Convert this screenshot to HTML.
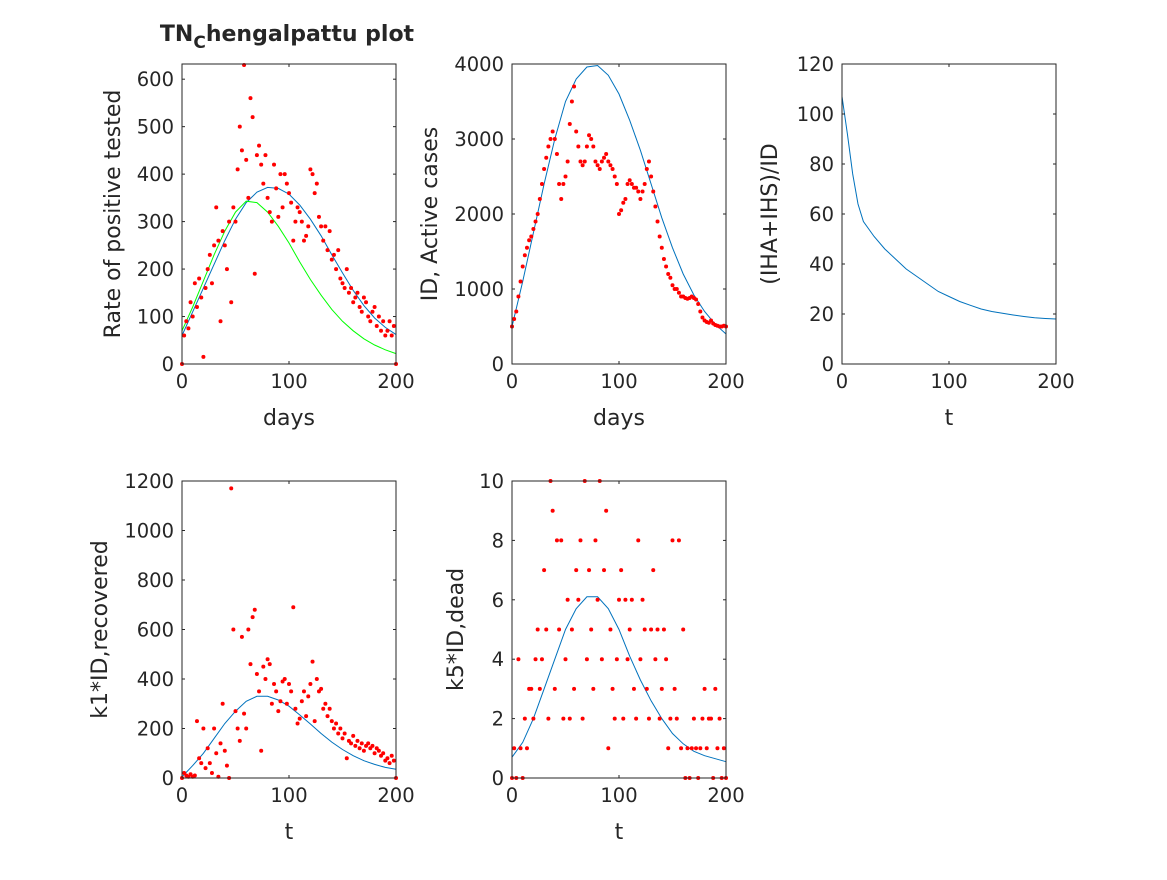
<!DOCTYPE html>
<html><head><meta charset="utf-8"><style>
body{margin:0;background:#fff}
svg text{font-family:"DejaVu Sans","Liberation Sans",sans-serif;fill:#262626}
</style></head><body>
<svg id="fig" width="1167" height="875" viewBox="0 0 1167 875" xmlns="http://www.w3.org/2000/svg">
<rect width="1167" height="875" fill="#fff"/>
</svg>
<script>
// ---- data ----
const days2 = [];
for (let d = 0; d <= 200; d += 2) days2.push(d);
const days10 = [0,10,20,30,40,50,60,70,80,90,100,110,120,130,140,150,160,170,180,190,200];
const ratePoints = [0,60,90,75,130,100,170,120,180,140,15,160,200,230,170,250,330,260,90,280,250,200,300,130,330,300,410,500,450,630,430,350,560,520,190,440,460,420,380,440,350,320,300,420,370,310,400,330,400,380,360,340,260,300,330,320,300,260,270,290,410,400,360,380,310,290,260,290,240,280,220,230,200,240,180,170,160,200,150,160,130,140,150,120,110,140,130,100,90,110,120,80,100,70,90,60,70,90,60,80,0];
const rateFitBlue = [60,110,160,210,260,305,340,362,372,370,358,335,305,270,230,192,155,123,97,77,62];
const rateFitGreen = [70,120,175,230,280,320,343,340,320,290,255,215,178,145,115,90,70,53,40,30,22];
const activePoints = [500,600,700,900,1100,1300,1450,1550,1650,1700,1800,1900,2000,2200,2400,2600,2750,2900,3000,3100,3000,2800,2400,2200,2400,2500,2700,3200,3500,3700,3100,2900,2700,2650,2700,2900,3050,3000,2900,2700,2650,2600,2700,2750,2800,2700,2650,2600,2500,2400,2000,2050,2150,2200,2400,2450,2400,2350,2350,2300,2200,2300,2400,2600,2700,2500,2300,2100,1900,1700,1550,1400,1300,1200,1150,1050,1000,1000,950,900,900,880,870,880,900,880,860,800,700,620,580,560,550,580,540,520,510,500,500,510,500];
const activeFit = [500,1100,1750,2400,3000,3500,3800,3960,3980,3850,3600,3250,2850,2400,1950,1550,1200,920,700,530,400];
const ratioT = [0,5,10,15,20,30,40,50,60,70,80,90,100,110,120,130,140,150,160,170,180,190,200];
const ratioVals = [107,92,76,64,57,51,46,42,38,35,32,29,27,25,23.5,22,21,20.3,19.6,19,18.5,18.2,18];
const recPoints = [0,20,10,5,15,5,10,230,80,60,200,40,120,60,20,200,100,5,140,300,110,50,0,1170,600,270,200,150,570,260,200,600,460,650,680,420,350,110,450,400,480,460,300,380,350,270,310,390,400,300,380,350,690,280,220,240,310,350,250,330,380,470,230,400,350,360,280,300,250,280,230,200,220,180,200,160,180,80,150,140,170,130,150,120,140,110,130,140,120,130,100,120,110,90,100,70,80,60,90,70,0];
const recFit = [5,50,100,160,220,270,310,330,330,315,290,255,218,180,145,115,90,70,55,43,35];
const deadPoints = [0,1,0,4,1,0,2,1,3,3,2,4,5,3,4,7,5,2,10,9,3,8,5,8,2,4,6,2,5,3,7,6,8,2,10,4,7,5,3,8,6,10,4,7,9,1,5,3,2,4,6,7,2,6,4,5,6,3,2,8,4,6,5,3,2,5,7,4,5,2,3,5,4,1,2,8,3,2,8,1,5,0,1,0,1,2,1,0,1,2,3,1,2,2,0,3,1,2,0,1,0];
const deadFit = [0.7,1.2,2,3,4,5,5.7,6.1,6.1,5.7,5,4.1,3.3,2.6,2,1.5,1.15,0.9,0.75,0.65,0.55];
const xTicks = [0,100,200];
const yTicks1 = [0,100,200,300,400,500,600];
const yTicks2 = [0,1000,2000,3000,4000];
const yTicks3 = [0,20,40,60,80,100,120];
const yTicks4 = [0,200,400,600,800,1000,1200];
const yTicks5 = [0,2,4,6,8,10];

const NS = "http://www.w3.org/2000/svg";
const svg = document.getElementById('fig');
function mk(tag, attrs, parent){const e=document.createElementNS(NS,tag);for(const k in attrs)e.setAttribute(k,attrs[k]);(parent||svg).appendChild(e);return e;}

function panel(o){
  const g = mk('g',{});
  
  
  const sx = v => o.x0 + (v - 0) / 200 * (o.x1 - o.x0);
  const sy = v => o.y1 - v / o.ymax * (o.y1 - o.y0);
  const bg = mk('rect',{x:o.x0,y:o.y0,width:o.x1-o.x0,height:o.y1-o.y0,fill:'#fff'},g);
  
  
  (o.lines||[]).forEach((L,i)=>{
    const pts = L.xs.map((x,j)=>sx(x).toFixed(1)+','+sy(L.ys[j]).toFixed(1)).join(' ');
    const pl = mk('polyline',{points:pts,fill:'none',stroke:L.color,'stroke-width':1},g);
    
    
  });
  if (o.pts) o.pts.forEach((v,j)=>{
    const c = mk('circle',{cx:sx(days2[j]),cy:sy(v),r:2,fill:'#ff0000'},g);
    
    
  });
  mk('rect',{x:o.x0,y:o.y0,width:o.x1-o.x0,height:o.y1-o.y0,fill:'none',stroke:'#262626','stroke-width':1},g);
  xTicks.forEach(t=>{
    const X = sx(t);
    mk('line',{x1:X,x2:X,y1:o.y1,y2:o.y1-3,stroke:'#262626'},g);
    mk('line',{x1:X,x2:X,y1:o.y0,y2:o.y0+3,stroke:'#262626'},g);
    const tx = mk('text',{x:X,y:o.y1+24,'text-anchor':'middle','font-size':19.5},g);
    tx.textContent = t;
    
    
  });
  o.yt.forEach(t=>{
    const Y = sy(t);
    mk('line',{x1:o.x0,x2:o.x0+3,y1:Y,y2:Y,stroke:'#262626'},g);
    mk('line',{x1:o.x1,x2:o.x1-3,y1:Y,y2:Y,stroke:'#262626'},g);
    const tx = mk('text',{x:o.x0-8,y:Y+7,'text-anchor':'end','font-size':19.5},g);
    tx.textContent = t;
    
    
  });
  const xl = mk('text',{x:(o.x0+o.x1)/2,y:o.y1+61,'text-anchor':'middle','font-size':22},g);
  xl.textContent = o.xlabel;
  
  
  const yl = mk('text',{x:0,y:0,'text-anchor':'middle','font-size':22,transform:`translate(${o.ylx},${(o.y0+o.y1)/2}) rotate(-90)`},g);
  yl.textContent = o.ylabel;
  
  
}

panel({name:'rate-positive-panel',x0:182,x1:396,y0:64,y1:364,ymax:632,yt:yTicks1,pts:ratePoints,
  lines:[{xs:days10,ys:rateFitBlue,color:'#0072bd',label:'fit-line-blue'},{xs:days10,ys:rateFitGreen,color:'#00ff00',label:'fit-line-green'}],
  xlabel:'days',ylabel:'Rate of positive tested',ylx:120});
panel({name:'active-cases-panel',x0:512,x1:726,y0:64,y1:364,ymax:4000,yt:yTicks2,pts:activePoints,
  lines:[{xs:days10,ys:activeFit,color:'#0072bd',label:'fit-line'}],
  xlabel:'days',ylabel:'ID, Active cases',ylx:437});
panel({name:'ratio-panel',x0:842,x1:1056,y0:64,y1:364,ymax:120,yt:yTicks3,
  lines:[{xs:ratioT,ys:ratioVals,color:'#0072bd',label:'ratio-line'}],
  xlabel:'t',ylabel:'(IHA+IHS)/ID',ylx:777});
panel({name:'recovered-panel',x0:182,x1:396,y0:481,y1:778,ymax:1200,yt:yTicks4,pts:recPoints,
  lines:[{xs:days10,ys:recFit,color:'#0072bd',label:'fit-line'}],
  xlabel:'t',ylabel:'k1*ID,recovered',ylx:107});
panel({name:'dead-panel',x0:512,x1:726,y0:481,y1:778,ymax:10,yt:yTicks5,pts:deadPoints,
  lines:[{xs:days10,ys:deadFit,color:'#0072bd',label:'fit-line'}],
  xlabel:'t',ylabel:'k5*ID,dead',ylx:463});

const title = mk('text',{x:287,y:41,'text-anchor':'middle','font-size':22,'font-weight':'bold'});


title.innerHTML = 'TN<tspan dy="7" font-size="17">C</tspan><tspan dy="-7">hengalpattu plot</tspan>';
</script>
</body></html>
